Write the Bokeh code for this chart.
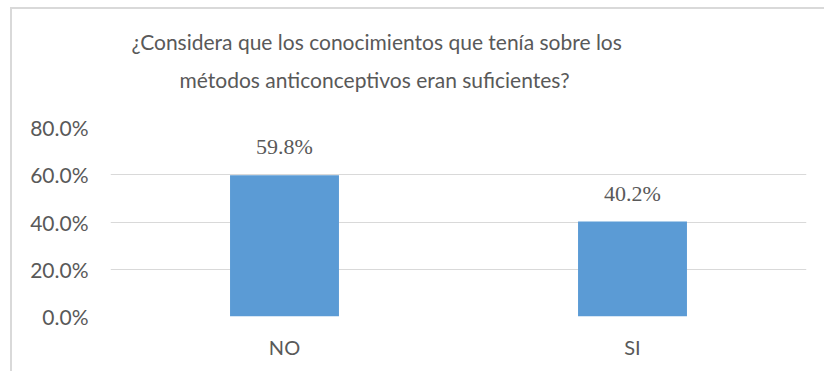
from bokeh.plotting import figure
from bokeh.models import ColumnDataSource, LabelSet, Title, Range1d, PrintfTickFormatter, FixedTicker
from bokeh.embed import file_html
from bokeh.resources import INLINE

categories = ["NO", "SI"]
values = [59.8, 40.2]
value_labels = ["59.8%", "40.2%"]
y_ticks = [0, 20, 40, 60, 80]
title_lines = ["¿Considera que los conocimientos que tenía sobre los",
               "métodos anticonceptivos eran suficientes?"]

FONT = "Lato"
TXT = "#595959"

source = ColumnDataSource(dict(cat=categories, val=values, lab=value_labels))

p = figure(x_range=categories, y_range=Range1d(0, 80), width=814, height=364,
           output_backend="svg", toolbar_location=None,
           min_border_left=98, min_border_right=20, min_border_top=118, min_border_bottom=57)
p.margin = (7, 0, 0, 10)
p.styles = {"border-top": "2px solid #D9D9D9", "border-left": "2px solid #D9D9D9"}
p.outline_line_color = None
p.background_fill_color = "white"
p.border_fill_color = "white"

p.vbar(x="cat", top="val", width=0.313, source=source, color="#5B9BD5", line_color=None)

p.add_layout(LabelSet(x="cat", y="val", text="lab", source=source, y_offset=16,
                      text_align="center", text_baseline="bottom",
                      text_font=FONT, text_font_size="22px", text_color=TXT))

p.xgrid.grid_line_color = None
p.ygrid.grid_line_color = "#D9D9D9"
p.ygrid.grid_line_width = 1

p.yaxis.ticker = FixedTicker(ticks=y_ticks)
p.yaxis.formatter = PrintfTickFormatter(format="%.1f%%")
for ax in (p.xaxis[0], p.yaxis[0]):
    ax.axis_line_color = None
    ax.major_tick_line_color = None
    ax.minor_tick_line_color = None
    ax.major_label_text_font = FONT
    ax.major_label_text_color = TXT
p.yaxis.major_label_text_font_size = "21px"
p.xaxis.major_label_text_font_size = "20px"
p.yaxis.major_label_standoff = 16
p.xaxis.major_label_standoff = 12

# spacer between the frame and the title block
p.add_layout(Title(text=" ", standoff=10, text_font=FONT, text_font_size="20px"), "above")
# second line nearest the frame, first line above it
p.add_layout(Title(text=title_lines[1], align="left", offset=69, standoff=0,
                   text_font=FONT, text_font_size="21px", text_font_style="normal",
                   text_color=TXT), "above")
p.add_layout(Title(text=title_lines[0], align="left", offset=21, standoff=21,
                   text_font=FONT, text_font_size="21px", text_font_style="normal",
                   text_color=TXT), "above")

open("out.html", "w").write(file_html(p, INLINE))
